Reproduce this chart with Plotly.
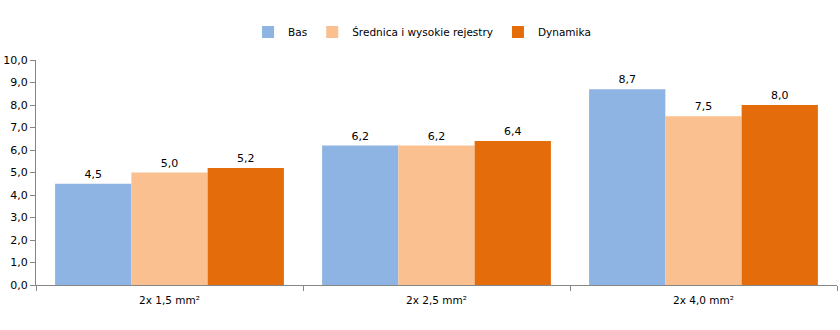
import plotly.graph_objects as go

categories = ["2x 1,5 mm²", "2x 2,5 mm²", "2x 4,0 mm²"]
series_names = ["Bas", "Średnica i wysokie rejestry", "Dynamika"]
bas = [4.5, 6.2, 8.7]
srednica = [5.0, 6.2, 7.5]
dynamika = [5.2, 6.4, 8.0]
colors = ["#8EB4E3", "#FAC090", "#E46C0A"]
y_ticks = [0, 1, 2, 3, 4, 5, 6, 7, 8, 9, 10]

fig = go.Figure()
for name, vals, col in zip(series_names, [bas, srednica, dynamika], colors):
    fig.add_trace(go.Bar(
        name=name, x=categories, y=vals, marker_color=col,
        marker_line_width=0,
        text=[f"{v:.1f}".replace(".", ",") for v in vals],
        textposition="outside", cliponaxis=False,
        textfont=dict(size=11, color="#000000"),
    ))

fig.update_layout(
    width=840, height=330,
    margin=dict(l=36, r=3, t=60, b=45, autoexpand=False),
    barmode="group", bargap=0.143, bargroupgap=0,
    plot_bgcolor="white", paper_bgcolor="white",
    separators=",.",
    font=dict(family="DejaVu Sans", size=10.5, color="#000000"),
    legend=dict(orientation="h", x=0.482, xanchor="center", y=1.125, yanchor="middle",
                font=dict(size=10.5), itemwidth=30, traceorder="normal"),
    showlegend=True,
)
fig.update_xaxes(
    showline=True, linecolor="#868686", linewidth=1,
    ticks="outside", tickson="boundaries", ticklen=5, tickcolor="#868686",
    showgrid=False, tickfont=dict(size=10.5), ticklabelstandoff=5,
)
fig.update_yaxes(
    range=[0, 10], tickvals=y_ticks, tickformat=".1f",
    showline=True, linecolor="#868686", linewidth=1,
    ticks="outside", ticklen=5, tickcolor="#868686",
    showgrid=False, zeroline=False, tickfont=dict(size=11),
)

fig.write_html("out.html")
